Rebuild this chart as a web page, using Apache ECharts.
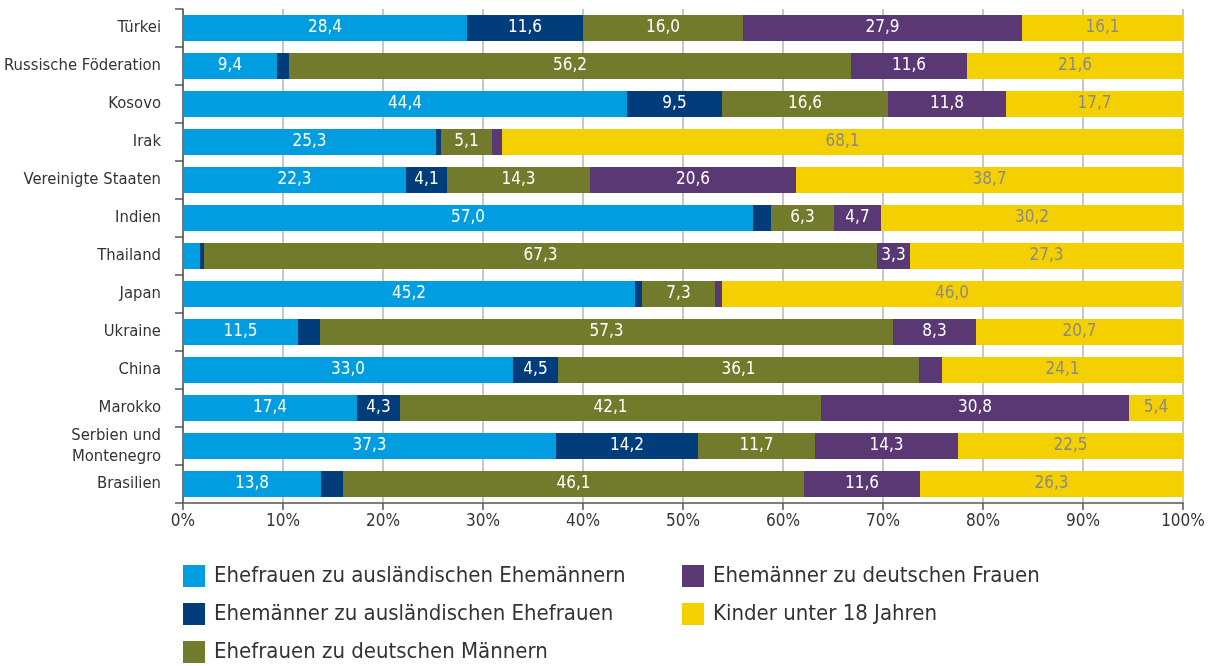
<!DOCTYPE html>
<html>
<head>
<meta charset="utf-8">
<script src="https://cdn.jsdelivr.net/npm/echarts@6/dist/echarts.min.js"></script>
<style>
    html, body { margin: 0; padding: 0; background: #fff; }
    #chart { width: 1224px; height: 666px; }
</style>
</head>
<body>
<div id="chart"></div>
<script>
var countries = ['Türkei', 'Russische Föderation', 'Kosovo', 'Irak', 'Vereinigte Staaten', 'Indien',
    'Thailand', 'Japan', 'Ukraine', 'China', 'Marokko', 'Serbien und\nMontenegro', 'Brasilien'];

var seriesNames = ['Ehefrauen zu ausländischen Ehemännern', 'Ehemänner zu ausländischen Ehefrauen',
    'Ehefrauen zu deutschen Männern', 'Ehemänner zu deutschen Frauen', 'Kinder unter 18 Jahren'];

var ehefrauenAusl = [28.4, 9.4, 44.4, 25.3, 22.3, 57.0, 1.7, 45.2, 11.5, 33.0, 17.4, 37.3, 13.8];
var ehemaennerAusl = [11.6, 1.2, 9.5, 0.5, 4.1, 1.8, 0.4, 0.7, 2.2, 4.5, 4.3, 14.2, 2.2];
var ehefrauenDt = [16.0, 56.2, 16.6, 5.1, 14.3, 6.3, 67.3, 7.3, 57.3, 36.1, 42.1, 11.7, 46.1];
var ehemaennerDt = [27.9, 11.6, 11.8, 1.0, 20.6, 4.7, 3.3, 0.7, 8.3, 2.3, 30.8, 14.3, 11.6];
var kinder = [16.1, 21.6, 17.7, 68.1, 38.7, 30.2, 27.3, 46.0, 20.7, 24.1, 5.4, 22.5, 26.3];

var xTicks = [0, 10, 20, 30, 40, 50, 60, 70, 80, 90, 100];

var colors = ['#009ee0', '#003d7a', '#727a2b', '#5a3873', '#f5d000'];
var labelColors = ['#ffffff', '#ffffff', '#ffffff', '#ffffff', '#8a8a8a'];
var fontName = '"Liberation Sans Narrow", "DejaVu Sans Condensed", "Open Sans", sans-serif';

var chart = echarts.init(document.getElementById('chart'));

function makeSeries(i, data) {
    return {
        name: seriesNames[i],
        type: 'bar',
        stack: 'total',
        barWidth: 26,
        itemStyle: { color: colors[i] },
        label: {
            show: true,
            position: 'inside',
            color: labelColors[i],
            fontFamily: fontName,
            fontSize: 17,
            formatter: function (p) {
                if (p.value < 3) return '';
                return p.value.toFixed(1).replace('.', ',');
            }
        },
        data: data
    };
}

var legendBase = {
    orient: 'vertical',
    top: 565,
    padding: 0,
    itemWidth: 22,
    itemHeight: 22,
    itemGap: 16,
    icon: 'rect',
    textStyle: { fontFamily: fontName, fontSize: 22, lineHeight: 22, color: '#333', padding: [0, 0, 0, 4] }
};

chart.setOption({
    backgroundColor: '#fff',
    animation: false,
    grid: { left: 183, right: 41, top: 9, height: 494, outerBoundsMode: 'none' },
    legend: [
        Object.assign({}, legendBase, { left: 183, data: seriesNames.slice(0, 3) }),
        Object.assign({}, legendBase, { left: 682, data: seriesNames.slice(3, 5) })
    ],
    xAxis: {
        type: 'value',
        min: xTicks[0],
        max: xTicks[xTicks.length - 1],
        interval: 10,
        axisLine: { show: true, lineStyle: { color: '#555', width: 1.5 } },
        axisTick: { show: true, length: 7, lineStyle: { color: '#555', width: 1.5 } },
        axisLabel: {
            color: '#333',
            fontFamily: fontName,
            fontSize: 17,
            margin: 10,
            formatter: '{value}%'
        },
        splitLine: { show: true, lineStyle: { color: '#b5b5b5', width: 1.5 } }
    },
    yAxis: {
        type: 'category',
        inverse: true,
        data: countries,
        axisLine: { show: true, lineStyle: { color: '#555', width: 1.5 } },
        axisTick: { show: true, length: 8, lineStyle: { color: '#555', width: 1.5 } },
        axisLabel: {
            color: '#333',
            fontFamily: fontName,
            fontSize: 16.5,
            margin: 22,
            lineHeight: 21
        }
    },
    series: [
        makeSeries(0, ehefrauenAusl),
        makeSeries(1, ehemaennerAusl),
        makeSeries(2, ehefrauenDt),
        makeSeries(3, ehemaennerDt),
        makeSeries(4, kinder)
    ]
});
</script>
</body>
</html>
